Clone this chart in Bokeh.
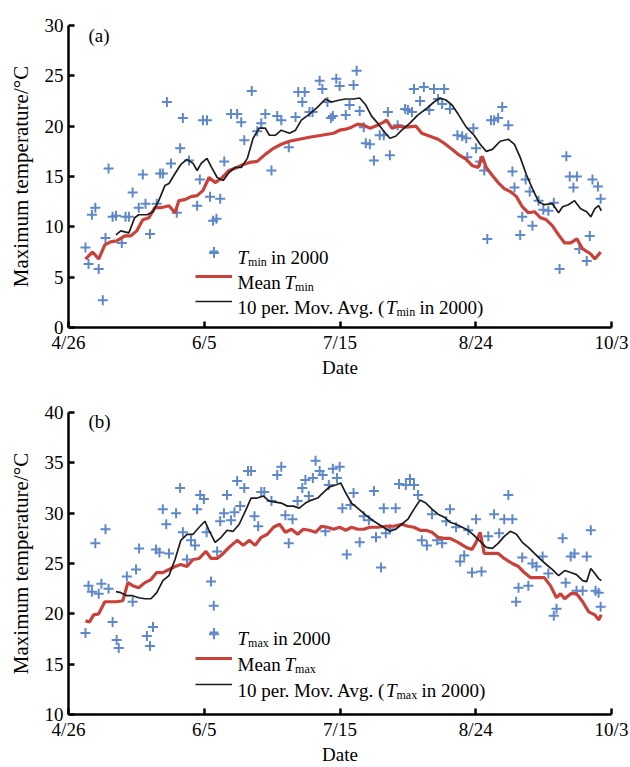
from bokeh.plotting import figure
from bokeh.layouts import column
from bokeh.models import FixedTicker, Legend, LegendItem, Label
from bokeh.core.properties import value
from bokeh.embed import file_html
from bokeh.resources import INLINE

# ---------------- data (x = days after 4/26) ----------------
x_ticks = [0, 40, 80, 120, 160]
x_tick_labels = ["4/26", "6/5", "7/15", "8/24", "10/3"]

# panel (a): Tmin
tmin_day = [5.0,5.9,6.9,7.9,8.9,10.1,10.9,11.8,13.0,14.0,15.7,16.8,17.8,18.9,20.7,21.9,22.7,24.0,26.0,27.0,
            27.8,29.0,30.2,31.9,32.9,33.7,35.5,37.9,38.7,39.6,40.8,41.7,42.6,43.6,44.7,45.9,47.9,49.7,50.9,51.8,
            54.0,55.6,56.8,58.0,59.8,61.5,62.7,64.9,66.9,67.7,68.9,69.6,71.0,71.9,74.0,74.8,76.3,77.3,77.9,78.9,
            79.9,81.7,82.8,84.0,84.9,85.8,87.0,87.6,88.8,90.0,91.7,92.9,94.1,94.7,97.0,99.2,100.0,101.2,101.8,103.6,
            104.7,106.3,107.7,108.9,110.1,110.7,112.4,114.6,116.0,117.2,117.5,119.3,120.1,121.3,122.5,123.4,124.5,125.4,126.6,127.8,
            129.6,130.8,131.4,133.1,133.7,134.7,135.9,136.7,138.5,139.9,141.4,143.0,144.7,146.7,147.7,148.8,149.8,150.5,152.7,153.6,
            154.4,156.0,156.8]
tmin_val = [7.95,6.3,11.2,11.9,5.8,2.7,8.9,15.8,11.0,11.1,8.4,11.0,11.0,13.4,11.9,15.2,12.3,9.3,12.3,15.3,
            15.3,22.4,16.3,11.4,17.8,20.8,16.6,12.1,14.7,20.6,20.6,13.0,10.6,10.8,12.8,16.5,21.2,21.2,20.4,18.6,
            23.5,19.5,20.3,21.2,15.6,21.0,20.6,17.9,20.9,23.4,22.4,23.4,21.4,21.4,24.5,23.7,22.4,20.8,21.0,24.7,
            24.0,21.1,22.1,24.1,25.5,21.5,19.9,18.3,18.2,16.6,19.1,19.1,21.4,17.1,20.1,21.7,21.6,21.4,23.7,22.5,
            23.9,21.6,23.7,22.7,22.2,23.7,21.7,19.1,19.0,18.8,16.9,19.8,17.8,16.5,15.6,8.8,20.6,20.6,20.8,21.9,
            20.1,15.5,13.9,9.2,11.0,14.7,13.5,10.1,12.6,11.7,11.6,12.4,5.8,17.0,15.0,13.9,15.0,7.8,6.6,9.1,
            14.7,14.0,12.8]

mean_tmin_day = [5.0,7.1,8.9,10.7,12.4,14.2,16.6,18.3,20.1,21.9,23.7,25.4,27.2,29.6,31.4,32.5,34.3,36.1,37.9,39.6,
                 41.4,43.2,45.0,47.3,49.7,51.5,53.3,55.6,58.0,60.4,62.7,65.1,68.0,71.0,74.6,78.1,79.9,81.7,83.4,85.2,
                 87.0,88.8,91.1,92.9,93.7,95.3,97.0,99.4,102.4,104.1,106.5,108.9,110.7,113.0,114.8,117.2,118.9,120.7,121.9,123.1,
                 124.9,126.6,128.4,130.2,132.0,133.7,135.5,137.3,139.1,140.8,142.6,144.4,146.2,148.0,149.8,151.5,153.9,155.1,156.8]
mean_tmin_val = [6.8,7.5,6.8,8.2,8.5,8.6,9.1,9.1,9.6,10.7,10.9,11.9,11.9,12.1,11.4,12.6,12.7,13.0,13.1,13.6,
                 14.9,14.4,14.8,15.6,15.9,16.2,16.4,16.5,17.2,17.8,18.2,18.5,18.7,18.9,19.1,19.3,19.6,19.7,19.9,20.2,
                 20.1,19.8,20.1,20.4,20.6,19.8,20.0,19.9,20.0,19.3,19.0,18.7,18.3,17.7,17.2,16.7,16.1,15.9,17.0,15.9,
                 15.1,14.4,13.8,13.5,13.0,12.0,11.4,11.5,10.9,10.7,10.1,9.2,8.4,8.4,8.8,7.8,7.3,6.8,7.5]

ma_tmin_day = [14.0,15.4,17.8,19.5,20.7,23.1,24.9,26.6,28.4,29.6,31.4,33.1,34.9,36.7,37.9,39.1,40.8,42.0,43.8,45.6,
               47.3,49.1,50.9,52.7,54.4,56.2,58.0,59.2,61.0,62.7,65.1,66.9,68.6,71.0,73.4,75.7,77.5,79.9,81.7,84.0,
               85.8,87.6,89.3,91.1,92.9,94.7,96.4,98.2,100.6,102.9,105.3,107.7,109.5,111.2,113.0,114.8,117.2,119.5,121.3,123.1,
               124.9,127.2,129.6,131.4,133.1,134.9,136.7,138.5,140.2,142.6,144.4,145.6,147.3,149.1,150.9,152.7,153.9,155.1,156.2,157.0]
ma_tmin_val = [9.2,9.6,9.4,10.9,11.2,11.2,11.5,12.6,14.1,14.3,15.3,16.2,16.7,16.3,15.6,16.3,16.8,16.0,14.9,14.6,
               15.4,15.9,15.9,16.8,18.8,19.8,19.8,19.1,19.1,19.6,19.3,19.6,20.6,21.2,21.9,22.7,22.4,22.6,22.7,22.7,
               22.8,22.1,21.0,20.3,19.5,18.8,19.0,19.6,20.3,21.1,21.7,22.4,22.8,22.6,22.1,21.2,19.9,19.1,18.2,17.5,
               17.7,18.5,18.7,18.2,16.9,15.2,13.8,12.5,12.2,12.3,11.4,12.0,12.2,12.6,11.8,11.5,11.0,11.8,12.1,11.6]

# panel (b): Tmax
tmax_day = [5.0,5.9,6.9,7.9,8.9,9.7,10.9,11.8,13.0,14.2,14.8,17.2,18.9,19.9,20.8,23.1,24.0,24.9,25.8,26.8,
            27.8,28.8,29.6,31.7,32.9,33.7,34.9,36.1,37.3,37.9,38.8,39.9,40.7,42.0,42.8,43.8,44.7,45.8,46.7,47.9,
            48.9,49.7,50.6,51.8,52.9,53.8,54.8,55.9,56.8,57.7,59.8,61.5,62.7,63.9,64.9,66.0,67.5,68.9,69.8,70.8,
            72.0,72.8,74.0,74.9,75.7,76.7,77.9,79.1,79.9,80.7,82.0,83.1,84.0,85.8,87.0,88.5,90.0,90.6,92.1,92.9,
            93.5,94.7,96.4,97.4,99.4,100.6,101.8,103.0,104.1,105.6,107.1,108.6,110.1,111.3,112.4,114.2,115.4,116.6,117.8,118.9,
            120.1,121.7,123.7,125.4,126.9,128.4,129.6,130.8,131.9,132.6,133.7,135.5,136.7,137.9,139.7,141.4,143.0,143.8,145.6,146.5,
            148.0,149.1,149.7,151.5,152.7,153.9,155.3,156.2,156.8]
tmax_val = [18.1,22.8,22.2,27.0,22.0,23.0,28.4,22.5,19.2,17.4,16.6,23.7,21.2,24.4,26.5,17.8,16.8,18.7,26.4,26.1,
            30.4,28.9,26.0,30.0,32.5,28.1,25.4,27.3,26.8,30.4,31.8,31.4,28.1,23.2,20.8,26.2,29.2,30.0,31.8,29.3,
            30.1,33.2,30.7,32.5,34.2,34.2,29.7,28.7,32.1,32.1,31.2,33.8,34.6,29.8,27.0,29.4,31.2,32.5,33.3,31.7,
            33.5,35.2,34.2,33.8,28.2,32.8,34.4,33.5,34.6,30.5,25.9,30.8,32.0,27.1,29.7,29.3,32.2,27.6,24.6,30.5,
            28.0,28.4,30.5,32.9,32.8,33.4,32.8,31.8,27.3,26.8,29.9,27.3,27.0,29.2,30.4,28.6,25.2,25.8,28.3,24.1,
            29.4,24.2,27.7,29.9,28.0,29.4,31.8,29.4,21.2,22.6,25.6,22.8,25.0,24.7,25.7,24.0,19.8,20.5,27.5,23.1,
            25.7,26.0,22.3,22.3,25.7,28.3,22.3,22.1,20.7]

mean_tmax_day = [5.0,6.2,7.4,8.9,10.7,12.4,14.2,16.0,17.5,18.9,20.7,22.5,24.3,26.0,27.8,29.6,31.4,33.1,34.9,36.7,
                 38.5,40.5,42.0,43.8,45.6,47.3,49.7,51.5,53.3,55.0,56.8,58.6,60.4,62.2,63.9,65.7,67.5,69.2,71.0,72.8,
                 74.6,76.3,78.1,79.9,81.7,83.4,85.2,87.0,88.8,91.1,93.5,95.9,98.2,100.0,101.8,103.6,105.3,107.1,108.9,110.7,
                 112.4,114.8,117.2,118.9,120.1,121.3,122.5,124.3,126.6,128.4,130.8,132.6,134.3,136.1,138.5,140.2,142.0,143.8,145.0,146.2,
                 148.0,149.7,151.5,153.3,155.1,156.2,157.0]
mean_tmax_val = [19.3,19.2,19.9,20.0,21.2,21.2,21.2,21.3,23.1,22.8,22.6,23.1,23.4,24.1,24.1,24.4,24.7,24.9,24.7,25.4,
                 25.5,26.2,25.5,25.5,26.0,26.6,27.3,26.8,27.3,26.8,27.6,27.9,28.6,28.9,28.1,28.4,27.9,28.4,28.3,28.1,
                 28.7,28.6,28.4,28.6,28.3,28.6,28.4,28.4,28.6,28.6,28.7,28.7,28.9,28.7,28.6,28.3,28.3,28.1,27.6,27.5,
                 27.5,27.1,26.6,26.4,27.1,28.1,26.0,26.0,26.0,25.5,25.0,24.7,24.1,23.6,23.6,23.6,22.8,21.6,22.0,21.5,
                 22.0,22.0,21.2,20.2,19.9,19.4,19.9]

ma_tmax_day = [14.0,15.4,17.2,18.9,20.7,22.5,24.3,26.0,27.8,29.6,31.4,33.1,34.9,36.7,38.5,40.2,41.4,43.2,45.0,46.7,
               48.5,50.3,52.1,53.8,55.6,57.4,59.2,61.0,62.7,64.5,66.3,68.0,69.8,71.6,73.4,75.2,76.9,78.7,80.2,81.7,
               83.4,85.2,87.6,90.0,92.3,94.7,96.4,98.2,100.0,101.8,103.6,105.3,107.1,108.9,110.7,112.4,114.2,116.0,117.8,119.5,
               121.3,123.1,124.9,126.6,128.4,130.2,132.0,133.7,135.5,137.3,139.1,140.8,142.6,144.4,146.2,148.0,149.7,151.5,152.7,153.9,
               155.1,156.2,157.0]
ma_tmax_val = [22.2,22.1,21.8,21.8,21.6,21.5,21.5,22.1,23.3,23.8,25.4,27.3,27.9,27.9,28.6,29.2,28.3,27.1,27.6,28.3,
               28.2,28.9,30.2,31.5,31.5,31.7,31.2,31.1,31.0,30.7,30.7,30.5,31.0,31.3,31.5,32.1,32.6,32.8,33.0,32.0,
               31.0,30.5,29.8,29.2,28.7,28.2,28.4,28.9,29.4,30.4,31.3,31.0,30.4,29.9,29.6,29.1,28.9,28.6,28.3,27.8,
               27.2,26.6,26.5,27.0,27.7,28.2,27.9,27.1,26.6,26.0,25.4,24.9,24.4,23.8,24.3,24.1,23.9,23.3,23.2,24.5,
               24.0,23.5,23.3]

# ---------------- styling ----------------
BLUE = "#5f88c9"
RED = "#c8413a"
BLACK = "#1c1c1c"
SERIF = "Liberation Serif"

# Times/Liberation Serif advance widths (per 1000 em) for legend text placement
W = {' ': 250, '(': 333, ')': 333, '.': 250, '0': 500, '1': 500, '2': 500, 'A': 722, 'M': 889,
     'T': 611, 'a': 444, 'e': 444, 'g': 500, 'i': 278, 'm': 778, 'n': 500, 'o': 500, 'p': 500,
     'r': 333, 'v': 500, 'x': 500}

BORDER_L = 68
BORDER_R = 19
FRAME_W = 630 - BORDER_L - BORDER_R   # plot-frame width in px
X_SPAN = 160                          # x range (days)
LEG_GLYPH_X = 127                     # legend key left edge, px from frame left
LEG_GLYPH_W = 37
LEG_TEXT_X = 169
FS = 19
FS_SUB = 12


def text_width(s, size, italic=False):
    w = 0
    for c in s:
        if italic and c == 'T':
            w += 556
        else:
            w += W.get(c, 500) * 0.98
    return w * size / 1000.0


def rich_label(p, x0, yc, pieces):
    """pieces: (text, size, italic, is_sub); x0/yc in frame screen px."""
    x = x0
    base = yc - 0.33 * FS
    for txt, size, italic, sub in pieces:
        lead = len(txt) - len(txt.lstrip(' '))
        x += text_width(' ' * lead, size)
        t = txt.lstrip(' ')
        p.add_layout(Label(x=x, y=base - (4 if sub else 0), x_units="screen", y_units="screen",
                           text=t, text_font=SERIF, text_font_size=f"{size}px",
                           text_font_style="italic" if italic else "normal",
                           text_color="black", text_baseline="alphabetic", text_align="left"))
        x += text_width(t, size, italic)


def make_panel(tag, sub, y_lo, y_hi, sc_x, sc_y, mean_x, mean_y, ma_x, ma_y,
               height, top, bottom, row0, step):
    p = figure(width=630, height=height, x_range=(0, X_SPAN), y_range=(y_lo, y_hi),
               output_backend="svg", toolbar_location=None,
               min_border_left=BORDER_L, min_border_right=BORDER_R,
               min_border_top=top, min_border_bottom=bottom)
    p.outline_line_color = None
    p.grid.visible = False
    p.background_fill_color = "white"

    r_sc = p.scatter(sc_x, sc_y, marker="cross", size=10, line_width=2, color=BLUE)
    r_mean = p.line(mean_x, mean_y, line_width=3.2, color=RED)
    r_ma = p.line(ma_x, ma_y, line_width=1.7, color=BLACK)

    for ax in (p.xaxis[0], p.yaxis[0]):
        ax.axis_line_width = 2.5
        ax.axis_line_color = "black"
        ax.major_tick_line_width = 2.5
        ax.major_tick_line_color = "black"
        ax.major_tick_in = 6
        ax.major_tick_out = 0
        ax.minor_tick_line_color = None
        ax.major_label_text_font = SERIF
        ax.major_label_text_font_size = "19px"
        ax.major_label_text_color = "black"
        ax.axis_label_text_font = SERIF
        ax.axis_label_text_font_style = "normal"
        ax.axis_label_text_color = "black"

    p.xaxis.ticker = FixedTicker(ticks=x_ticks)
    p.xaxis.major_label_overrides = {t: l for t, l in zip(x_ticks, x_tick_labels)}
    p.xaxis.axis_label = "Date"
    p.xaxis.axis_label_text_font_size = "19px"
    p.xaxis.major_label_standoff = 4
    p.xaxis.axis_label_standoff = 1

    p.yaxis.ticker = FixedTicker(ticks=list(range(y_lo, y_hi + 1, 5)))
    p.yaxis.axis_label = "Maximum temperature/°C"
    p.yaxis.axis_label_text_font_size = "21px"
    p.yaxis.major_label_standoff = 5
    p.yaxis.axis_label_standoff = 9

    gh = 22
    legend = Legend(items=[LegendItem(label=value(" "), renderers=[r_sc]),
                           LegendItem(label=value(" "), renderers=[r_mean]),
                           LegendItem(label=value(" "), renderers=[r_ma])],
                    location=(LEG_GLYPH_X, row0 - gh // 2), glyph_width=LEG_GLYPH_W, glyph_height=gh,
                    label_height=gh, label_width=1, label_standoff=0, spacing=int(step - gh),
                    padding=0, margin=0, border_line_color=None, background_fill_alpha=0,
                    label_text_font_size="4px")
    p.add_layout(legend)

    frame_h = height - top - bottom
    rows = [row0, row0 + step, row0 + 2 * step]

    # legend key for the "+" series (placed at the legend key position, converted to data units)
    key_x = (LEG_GLYPH_X + LEG_GLYPH_W / 2) / FRAME_W * X_SPAN
    key_y = y_lo + rows[2] / frame_h * (y_hi - y_lo)
    p.scatter([key_x], [key_y], marker="cross", size=10, line_width=2, color=BLUE)

    rich_label(p, LEG_TEXT_X, rows[2], [("T", FS, True, False), (sub, FS_SUB, False, True),
                                        (" in 2000", FS, False, False)])
    rich_label(p, LEG_TEXT_X, rows[1], [("Mean ", FS, False, False), ("T", FS, True, False),
                                        (sub, FS_SUB, False, True)])
    rich_label(p, LEG_TEXT_X, rows[0], [("10 per. Mov. Avg. (", FS, False, False), ("T", FS, True, False),
                                        (sub, FS_SUB, False, True), (" in 2000)", FS, False, False)])

    p.add_layout(Label(x=20, y=frame_h - 16, x_units="screen", y_units="screen", text=tag,
                       text_font=SERIF, text_font_size="19px", text_baseline="middle", text_color="black"))
    return p


pa = make_panel("(a)", "min", 0, 30, tmin_day, tmin_val, mean_tmin_day, mean_tmin_val,
                ma_tmin_day, ma_tmin_val, height=380, top=25, bottom=47, row0=26, step=25)
pb = make_panel("(b)", "max", 10, 40, tmax_day, tmax_val, mean_tmax_day, mean_tmax_val,
                ma_tmax_day, ma_tmax_val, height=387, top=32, bottom=46, row0=30, step=26)

layout = column(pa, pb, spacing=0)
open("out.html", "w").write(file_html(layout, INLINE))
